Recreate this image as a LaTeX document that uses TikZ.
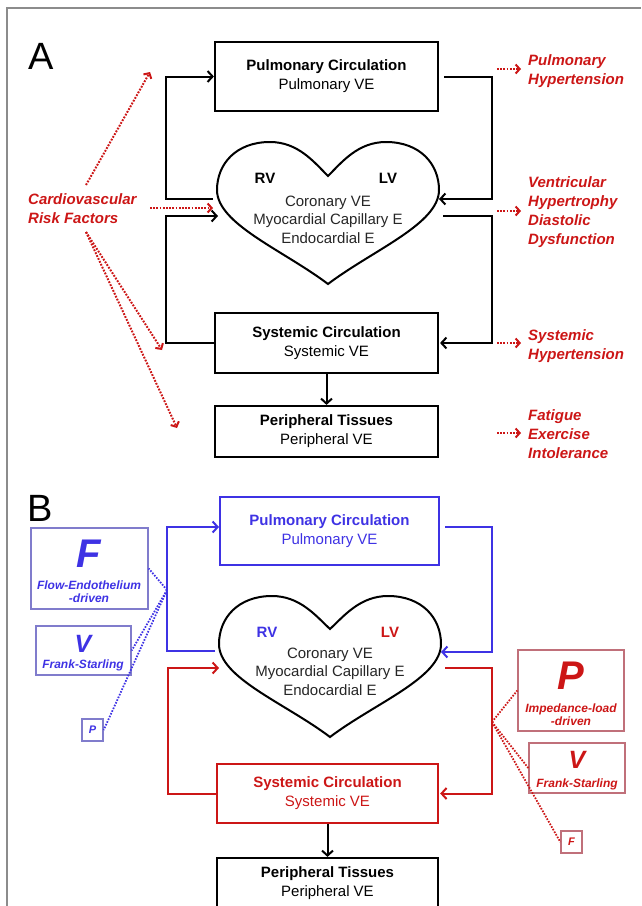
\documentclass[tikz,border=0pt]{standalone}
\usepackage{fontspec}
\setmainfont{Liberation Sans}
\usetikzlibrary{arrows.meta}
\definecolor{myred}{RGB}{204,22,22}
\definecolor{myblue}{RGB}{62,50,228}
\definecolor{lblue}{RGB}{128,124,204}
\definecolor{lred}{RGB}{192,112,122}
\definecolor{framegray}{RGB}{140,140,140}
\tikzset{
  mainbox/.style={draw, line width=2.2pt, minimum width=223pt, inner sep=0pt, align=center,
    font=\fontsize{15}{19}\selectfont},
  conn/.style={line width=2pt, -{Straight Barb[length=5pt,width=11pt]}},
  riskarrow/.style={myred, line width=2pt, dash pattern=on 1.8pt off 1.4pt,
    -{Straight Barb[length=4pt,width=9pt]}},
  redlabel/.style={text=myred, font=\fontsize{15}{19}\selectfont\bfseries\itshape,
    align=left, anchor=west, inner sep=0pt},
  heartline/.style={draw, line width=2pt},
  hearttext/.style={font=\fontsize{15}{18.5}\selectfont, align=center, inner sep=0pt, text=black!85},
  ventlabel/.style={font=\fontsize{15}{15}\selectfont\bfseries, inner sep=0pt},
  factbox/.style={draw, line width=1.4pt, inner sep=0pt},
  bigletter/.style={font=\fontsize{40}{40}\selectfont\bfseries\itshape, inner sep=0pt},
  midletter/.style={font=\fontsize{25}{25}\selectfont\bfseries\itshape, inner sep=0pt},
  smallletter/.style={font=\fontsize{11}{11}\selectfont\bfseries\itshape, inner sep=0pt},
  facttext/.style={font=\fontsize{12}{13.5}\selectfont\bfseries\itshape, align=center, inner sep=0pt},
  bdot/.style={myblue, line width=1.8pt, dash pattern=on 1.6pt off 1.4pt},
  rdot/.style={myred, line width=1.8pt, dash pattern=on 1.6pt off 1.4pt},
  panel/.style={font=\fontsize{38}{38}\selectfont, inner sep=0pt}
}
\begin{document}
\begin{tikzpicture}[x=1pt,y=-1pt]
\useasboundingbox (0,0) rectangle (641,906);
\clip (0,0) rectangle (641,906);
\draw[framegray, line width=1.8pt] (7,906) -- (7,8) -- (641,8);

% ================= Panel A =================
\node[panel] (labA) at (41,56) {A};
\node[mainbox, minimum height=69pt] (pa) at (326.5,76.5) {\textbf{Pulmonary Circulation}\\Pulmonary VE};
\node[mainbox, minimum height=60pt] (sa) at (326.5,343) {\textbf{Systemic Circulation}\\Systemic VE};
\node[mainbox, minimum height=51pt] (ta) at (326.5,431.5) {\textbf{Peripheral Tissues}\\Peripheral VE};

\begin{scope}[shift={(328,142)}]
\draw[heartline] (0,34) .. controls (-14,20) and (-30,0) .. (-58,0)
  .. controls (-92,0) and (-111,22) .. (-111,48)
  .. controls (-111,82) and (-45,108) .. (0,142)
  .. controls (45,108) and (111,82) .. (111,48)
  .. controls (111,22) and (92,0) .. (58,0)
  .. controls (30,0) and (14,20) .. cycle;
\end{scope}
\node[ventlabel] (rva) at (265,178) {RV};
\node[ventlabel] (lva) at (388,178) {LV};
\node[hearttext] (hta) at (328,219.5) {Coronary VE\\Myocardial Capillary E\\Endocardial E};

\coordinate (haLout) at (213,199);
\coordinate (haLin) at (218,216);
\coordinate (haRin) at (439,199);
\coordinate (haRout) at (443,216);
\coordinate (haRisk) at (213,208);

\draw[conn] (haLout) -| (166,76.5) -- (pa.west);
\draw[conn] (sa.west) -| (166,216) -- (haLin);
\draw[conn] ([xshift=5pt]pa.east) -| (492,199) -- (haRin);
\draw[conn] (haRout) -| (492,343) -- ([xshift=1pt]sa.east);
\draw[conn] (sa.south) -- (ta.north);

\node[redlabel] (risk) at (28,209) {Cardiovascular\\Risk Factors};
\coordinate (r1s) at (86,185);
\coordinate (r1e) at (150,72);
\coordinate (r2s) at (150,208);
\coordinate (r3s) at (86,232);
\coordinate (r3e) at (162,350);
\coordinate (r4e) at (177,428);
\draw[riskarrow] (r1s) -- (r1e);
\draw[riskarrow] (r2s) -- (haRisk);
\draw[riskarrow] (r3s) -- (r3e);
\draw[riskarrow] (r3s) -- (r4e);

\node[redlabel] (ph) at (528,71) {Pulmonary\\Hypertension};
\node[redlabel] (vh) at (528,212.5) {Ventricular\\Hypertrophy\\Diastolic\\Dysfunction};
\node[redlabel] (sh) at (528,346.5) {Systemic\\Hypertension};
\node[redlabel] (fe) at (528,434.5) {Fatigue\\Exercise\\Intolerance};
\draw[riskarrow] ([shift={(-31pt,2pt)}]ph.west) -- ([shift={(-7pt,2pt)}]ph.west);
\draw[riskarrow] ([shift={(-31pt,1.5pt)}]vh.west) -- ([shift={(-7pt,1.5pt)}]vh.west);
\draw[riskarrow] ([shift={(-31pt,3.5pt)}]sh.west) -- ([shift={(-7pt,3.5pt)}]sh.west);
\draw[riskarrow] ([shift={(-31pt,1.5pt)}]fe.west) -- ([shift={(-7pt,1.5pt)}]fe.west);

% ================= Panel B =================
\node[panel] (labB) at (40,508.5) {B};
\node[mainbox, draw=myblue, text=myblue, line width=2pt, minimum width=219pt, minimum height=68pt] (pb) at (329.5,531) {\textbf{Pulmonary Circulation}\\Pulmonary VE};
\node[mainbox, draw=myred, text=myred, line width=2.4pt, minimum width=221pt, minimum height=59pt] (sb) at (327.5,793.5) {\textbf{Systemic Circulation}\\Systemic VE};
\node[mainbox, minimum width=221pt, minimum height=51pt] (tb) at (327.5,883.5) {\textbf{Peripheral Tissues}\\Peripheral VE};

\begin{scope}[shift={(330,596)}]
\draw[heartline] (0,33) .. controls (-14,20) and (-30,0) .. (-58,0)
  .. controls (-92,0) and (-111,22) .. (-111,48)
  .. controls (-111,82) and (-45,107) .. (0,141)
  .. controls (45,107) and (111,82) .. (111,48)
  .. controls (111,22) and (92,0) .. (58,0)
  .. controls (30,0) and (14,20) .. cycle;
\end{scope}
\node[ventlabel, text=myblue] (rvb) at (267,632) {RV};
\node[ventlabel, text=myred] (lvb) at (390,632) {LV};
\node[hearttext] (htb) at (330,671.5) {Coronary VE\\Myocardial Capillary E\\Endocardial E};

\coordinate (hbLout) at (215,651);
\coordinate (hbLin) at (219,668);
\coordinate (hbRin) at (441,652);
\coordinate (hbRout) at (445,668);

\draw[conn, myblue] (hbLout) -- (167,651) -- (167,527) -- ([yshift=4pt]pb.west);
\draw[conn, myblue] ([shift={(5pt,4pt)}]pb.east) -| (492,652) -- (hbRin);
\draw[conn, myred] (sb.west) -| (168,668) -- (hbLin);
\draw[conn, myred] (hbRout) -| (492,793.5) -- ([xshift=1pt]sb.east);
\draw[conn] (sb.south) -- (tb.north);

% left factor boxes
\node[factbox, draw=lblue, minimum width=117pt, minimum height=81pt] (Fb) at (89.5,568.5) {};
\node[bigletter, text=myblue] (FbL) at (89,554) {F};
\node[facttext, text=myblue] (FbT) at (89,591.5) {Flow-Endothelium\\-driven};
\node[factbox, draw=lblue, minimum width=95pt, minimum height=49pt] (Vb) at (83.5,650.5) {};
\node[midletter, text=myblue] (VbL) at (83,644) {V};
\node[facttext, text=myblue] (VbT) at (83,665) {Frank-Starling};
\node[factbox, draw=lblue, minimum width=21pt, minimum height=22pt] (Pb) at (92.5,730) {};
\node[smallletter, text=myblue] (PbL) at (92.5,730) {P};

\coordinate (jb) at (167,590);
\draw[bdot] (jb) -- (Fb.east);
\draw[bdot] (jb) -- (Vb.east);
\draw[bdot] (jb) -- (Pb.east);

% right factor boxes
\node[factbox, draw=lred, minimum width=106pt, minimum height=81pt] (Pr) at (571,690.5) {};
\node[bigletter, text=myred] (PrL) at (571,676) {P};
\node[facttext, text=myred] (PrT) at (571,714.5) {Impedance-load\\-driven};
\node[factbox, draw=lred, minimum width=96pt, minimum height=50pt] (Vr) at (577,768) {};
\node[midletter, text=myred] (VrL) at (577,760) {V};
\node[facttext, text=myred] (VrT) at (577,784) {Frank-Starling};
\node[factbox, draw=lred, minimum width=21pt, minimum height=22pt] (Fr) at (571.5,842) {};
\node[smallletter, text=myred] (FrL) at (571.5,842) {F};

\coordinate (jr) at (492,722);
\draw[rdot] (jr) -- (Pr.west);
\draw[rdot] (jr) -- (Vr.west);
\draw[rdot] (jr) -- (Fr.west);
\end{tikzpicture}
\end{document}
